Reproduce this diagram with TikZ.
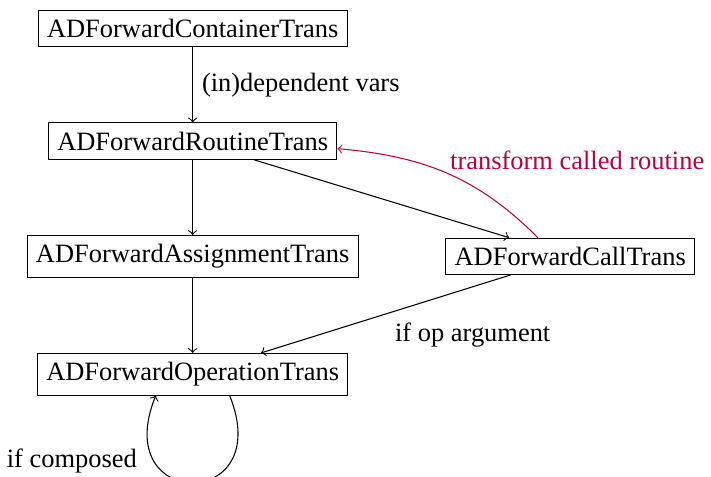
\documentclass[tikz,border=0pt]{standalone}
\usepackage{fontspec}
\setmainfont{Liberation Serif}
\usepackage{tikz}
\usetikzlibrary{positioning}

\begin{document}
\begin{tikzpicture}[box/.style={draw, rectangle}, redline/.style={purple}]
		\useasboundingbox (-2.561,0.379) rectangle (6.888,-5.960);
		% 节点
		\node[box] (container) at (0,0) {ADForwardContainerTrans};
		\node[box, below=of container] (routine) {ADForwardRoutineTrans};
		\node[box, below=of routine] (assign) {ADForwardAssignmentTrans};
		\node[box, right=1.15cm of assign] (call) {ADForwardCallTrans};
		\node[box, below=of assign] (operation) {ADForwardOperationTrans};
		% 连线
		\draw[->] (container) -- node[right] {(in)dependent vars} (routine);
		\draw[->] (routine) -- (assign);
		\draw[->] (routine) -- (call);
		\draw[->] (assign) -- (operation);
		\draw[->] (call) -- node[below right] {if op argument} (operation);
		\draw[->, redline] (call.150) to[out=135, in=-5] node[pos=0.5, above right, inner sep=1pt] {transform called routine} (routine.-3);
		% 自环
		\draw[->] (operation.-30) to[out=-68, in=-112, looseness=4.35] node[pos=0.75, left=3pt] {if composed} (operation.-150);
		\end{tikzpicture}
\end{document}
